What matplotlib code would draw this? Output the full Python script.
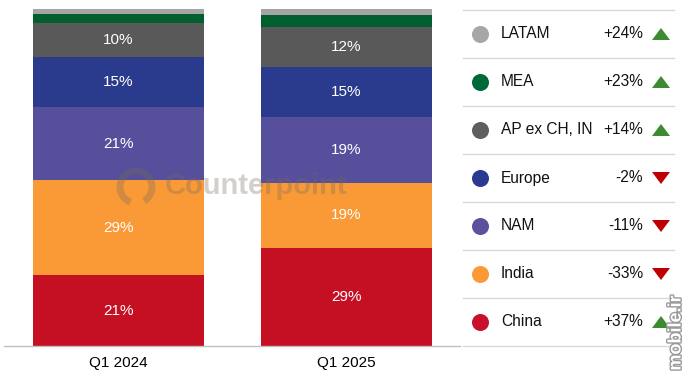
import numpy as np
import matplotlib
matplotlib.use("Agg")
import matplotlib.pyplot as plt
from matplotlib.patches import Polygon, Arc
import matplotlib.patheffects as pe

plt.rcParams['font.family'] = ['Liberation Sans', 'DejaVu Sans']

# data (share of shipments, %), stacked bottom -> top
quarters = ["Q1 2024", "Q1 2025"]
regions = ["China", "India", "NAM", "Europe", "AP ex CH, IN", "MEA", "LATAM"]
share_2024 = [21.0, 28.2, 21.7, 14.8, 10.1, 2.7, 1.5]
share_2025 = [29.1, 19.3, 19.6, 14.8, 11.9, 3.6, 1.7]
labels_2024 = ["21%", "29%", "21%", "15%", "10%", "", ""]
labels_2025 = ["29%", "19%", "19%", "15%", "12%", "", ""]
colors = ["#c41022", "#f99a36", "#564f9c", "#2a3a8c", "#595959", "#005f2f", "#a5a5a5"]

# legend rows, top -> bottom
legend_names = ["LATAM", "MEA", "AP ex CH, IN", "Europe", "NAM", "India", "China"]
legend_growth = ["+24%", "+23%", "+14%", "-2%", "-11%", "-33%", "+37%"]
legend_up = [True, True, True, False, False, False, True]
legend_colors = ["#a6a6a6", "#00693a", "#5f5f5f", "#2b3990", "#5a529f", "#fb9a35", "#c8102e"]

W, H = 690, 376
fig = plt.figure(figsize=(W / 100, H / 100), dpi=100)

# main stacked bars
ax = fig.add_axes([4 / W, 1 - 346 / H, 456 / W, 337 / H])
x = np.arange(len(quarters))
bottom = np.zeros(2)
for i, reg in enumerate(regions):
    vals = np.array([share_2024[i], share_2025[i]])
    ax.bar(x, vals, 0.75, bottom=bottom, color=colors[i], linewidth=0, zorder=2)
    for j, lab in enumerate([labels_2024[i], labels_2025[i]]):
        if lab:
            ax.text(x[j], bottom[j] + vals[j] / 2, lab, ha="center", va="center",
                    color="white", fontsize=11, zorder=3)
    bottom += vals

ax.set_xlim(-0.5, 1.5)
ax.set_ylim(0, 100)
ax.set_yticks([])
ax.set_xticks(x)
ax.set_xticklabels(quarters, fontsize=11)
ax.tick_params(axis="x", length=0, pad=7)
for s in ["top", "right", "left"]:
    ax.spines[s].set_visible(False)
ax.spines["bottom"].set_color("#c0c0c0")
ax.spines["bottom"].set_linewidth(1)

# watermark
wm = fig.add_axes([0, 0, 1, 1], zorder=5)
wm.set_xlim(0, W)
wm.set_ylim(H, 0)
wm.axis("off")
wm.add_patch(Arc((136, 187), 32, 32, theta1=-250, theta2=60, color="#7a6a5a",
                 lw=5, alpha=0.32))
wm.text(165, 186, "Counterpoint", fontsize=21, fontweight="bold", color="#7a6a5a",
        alpha=0.32, ha="left", va="center")

# legend panel
lg = fig.add_axes([450 / W, 0, 240 / W, 1])
lg.set_xlim(450, 690)
lg.set_ylim(H, 0)
lg.axis("off")
for k in range(len(legend_names) + 1):
    y = 10 + k * 48
    lg.plot([463, 674], [y, y], color="#d9d9d9", lw=1)
for k, name in enumerate(legend_names):
    yc = 34 + k * 48
    lg.scatter([480], [yc], s=150, color=legend_colors[k], linewidths=0)
    lg.text(501, yc, name, fontsize=11.2, va="center", ha="left", color="#111111")
    lg.text(643, yc, legend_growth[k], fontsize=11.2, va="center", ha="right", color="#111111")
    if legend_up[k]:
        tri = [(652, yc + 6), (670, yc + 6), (661, yc - 6)]
        col = "#3d8b2f"
    else:
        tri = [(652, yc - 6), (670, yc - 6), (661, yc + 6)]
        col = "#c00000"
    lg.add_patch(Polygon(tri, closed=True, color=col, lw=0))

lg.text(676, 333, "mobile.ir", rotation=90, fontsize=13, fontweight="bold",
        color="white", ha="center", va="center",
        path_effects=[pe.withStroke(linewidth=2, foreground="#9a9a9a")])

fig.savefig("out.png", dpi=100)
